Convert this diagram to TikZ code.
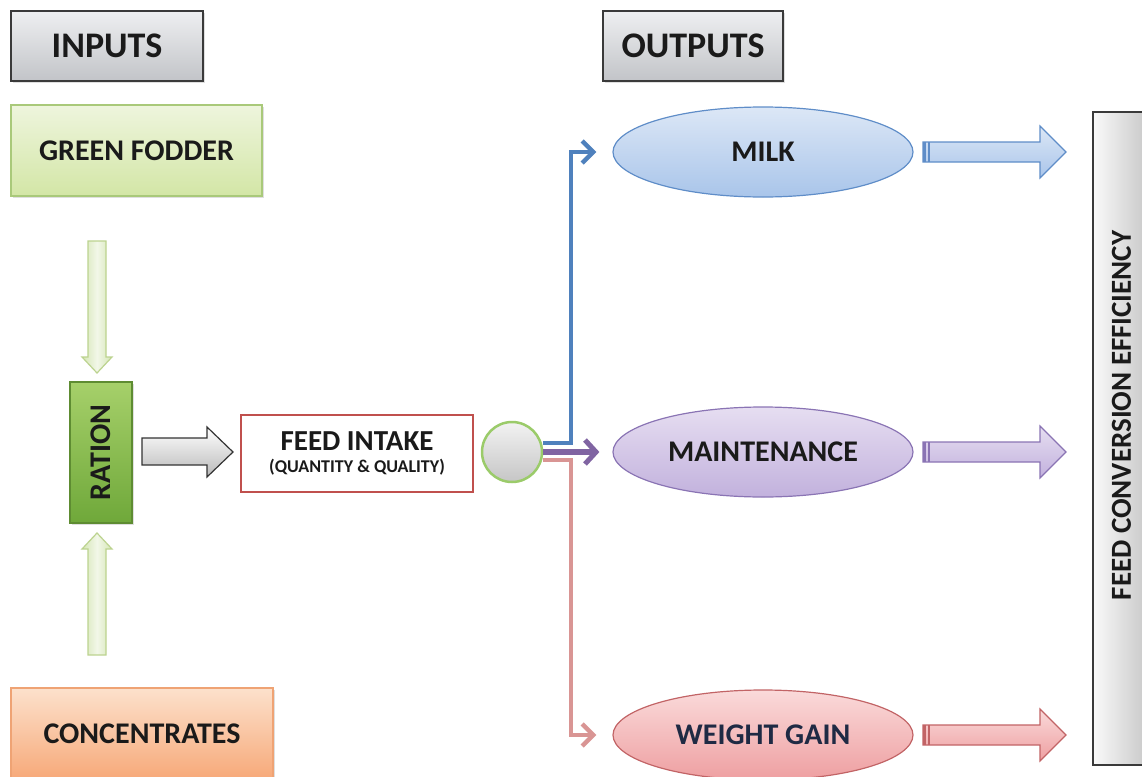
\documentclass[tikz,border=0pt]{standalone}
\usepackage{fontspec}
\setmainfont{Carlito}
\usetikzlibrary{shapes.geometric,arrows.meta,shadows,calc}
\newcommand\myfs[1]{\fontsize{#1}{#1}\selectfont}
\definecolor{txt}{HTML}{1A1A1A}
\definecolor{hdrtop}{HTML}{EEEFF1}
\definecolor{hdrbot}{HTML}{C2C4C8}
\definecolor{hdrline}{HTML}{3A3A3A}
\definecolor{gftop}{HTML}{EEF5DD}
\definecolor{gfbot}{HTML}{D3E6A6}
\definecolor{gfline}{HTML}{A9C97A}
\definecolor{ratop}{HTML}{A6D06A}
\definecolor{rabot}{HTML}{6FA83A}
\definecolor{raline}{HTML}{5E8C32}
\definecolor{cotop}{HTML}{FCE1CC}
\definecolor{cobot}{HTML}{F7A979}
\definecolor{coline}{HTML}{EFA374}
\definecolor{fired}{HTML}{C0504D}
\definecolor{hubline}{HTML}{9BCB6A}
\definecolor{bline}{HTML}{4F81BD}
\definecolor{pline}{HTML}{8064A2}
\definecolor{rline}{HTML}{D99594}
\definecolor{btop}{HTML}{DCE7F6}
\definecolor{bbot}{HTML}{A9C5EA}
\definecolor{bedge}{HTML}{5F8DC8}
\definecolor{ptop}{HTML}{E6DEF1}
\definecolor{pbot}{HTML}{C2B1DD}
\definecolor{pedge}{HTML}{8A74B4}
\definecolor{rtop}{HTML}{FADADA}
\definecolor{rbot}{HTML}{EE9FA1}
\definecolor{redge}{HTML}{C26466}
\definecolor{wgtxt}{HTML}{1F2A44}
\definecolor{galine}{HTML}{BCD38F}
\definecolor{gaout}{HTML}{D5E6B5}
\definecolor{gain}{HTML}{F2F7E8}
\tikzset{
  shad/.style={drop shadow={shadow xshift=2pt,shadow yshift=-2pt,opacity=0.25}},
  hdrbox/.style={draw=hdrline,line width=1.2pt,top color=hdrtop,bottom color=hdrbot,
    minimum height=70pt,inner sep=0pt,font=\myfs{36}\bfseries,text=txt,shad},
  inbox/.style={line width=1.2pt,minimum height=91pt,inner sep=0pt,font=\myfs{30}\bfseries,text=txt,shad},
  outell/.style={ellipse,line width=1.2pt,minimum width=300pt,minimum height=90pt,inner sep=0pt,
    font=\myfs{30}\bfseries,text=txt},
  conn/.style={line width=4pt,-{Straight Barb[length=11pt,width=22pt,line width=4.5pt]}},
  garrow/.style={draw=galine,line width=1.2pt,left color=gaout,right color=gaout,middle color=gain},
  barrow/.style={line width=1.2pt},
}
\begin{document}
\begin{tikzpicture}[x=1pt,y=-1pt]
\useasboundingbox (0,0) rectangle (1142,776);
% headers
\node[hdrbox,minimum width=192pt] (inputs) at (107,46) {INPUTS};
\node[hdrbox,minimum width=180pt] (outputs) at (693,46) {OUTPUTS};
% inputs
\node[inbox,draw=gfline,top color=gftop,bottom color=gfbot,minimum width=251pt] (green) at (136.5,150.5) {GREEN FODDER};
\node[inbox,draw=coline,top color=cotop,bottom color=cobot,minimum width=262pt] (conc) at (142,733.5) {CONCENTRATES};
\node[draw=raline,line width=1.2pt,top color=ratop,bottom color=rabot,minimum width=62pt,minimum height=141pt,
  inner sep=0pt,font=\myfs{30}\bfseries,text=txt,shad] (ration) at (101,452.5) {\rotatebox{90}{RATION}};
% green block arrows
\draw[garrow] (88,241) -- (106,241) -- (106,357) -- (112,357) -- (97,373) -- (82,357) -- (88,357) -- cycle;
\draw[garrow] (88,655) -- (106,655) -- (106,549) -- (112,549) -- (97,533) -- (82,549) -- (88,549) -- cycle;
% gray arrow
\draw[line width=1.2pt,draw=black!80,top color=white,bottom color=gray!55]
  (142,438) -- (207,438) -- (207,427) -- (233,452) -- (207,477) -- (207,465) -- (142,465) -- cycle;
% feed intake
\node[draw=fired,line width=2.5pt,fill=white,minimum width=232pt,minimum height=77pt,inner sep=0pt,text=txt,
  align=center] (feed) at (357,453.5) {{\myfs{29}\bfseries FEED INTAKE}\\[7pt]{\myfs{18}\bfseries (QUANTITY \& QUALITY)}};
% hub
\node[circle,draw=hubline,line width=2.5pt,top color=gray!10,bottom color=gray!45,minimum size=60pt,inner sep=0pt] (hub) at (512,452) {};
% outputs
\node[outell,draw=bedge,top color=btop,bottom color=bbot] (milk) at (763,152) {MILK};
\node[outell,draw=pedge,top color=ptop,bottom color=pbot] (maint) at (763,452) {MAINTENANCE};
\node[outell,draw=redge,top color=rtop,bottom color=rbot,text=wgtxt] (wg) at (763,735) {WEIGHT GAIN};
% connectors
\draw[conn,bline] ([yshift=9pt]hub.east) -- ++(28,0) |- ([xshift=-16pt]milk.west);
\draw[conn,rline] ([yshift=-8pt]hub.east) -- ++(28,0) |- ([xshift=-16pt]wg.west);
\draw[line width=6pt,pline,-{Straight Barb[length=11pt,width=24pt,line width=5pt]}] (hub.east) -- ([xshift=-13pt]maint.west);
% right block arrows
\foreach \yy/\ec/\tc/\bc in {152/bedge/btop/bbot,452/pedge/ptop/pbot,735/redge/rtop/rbot}{
  \begin{scope}[shift={(0,\yy)}]
    \draw[barrow,draw=\ec,top color=\tc,bottom color=\bc]
      (923,-10) -- (1040,-10) -- (1040,-26) -- (1066,0) -- (1040,26) -- (1040,10) -- (923,10) -- cycle;
    \fill[\ec] (923,-10) rectangle (926,10);
    \draw[line width=1.2pt,draw=\ec] (929,-10) -- (929,10);
  \end{scope}
}
% FCE
\node[draw=hdrline,line width=1.2pt,left color=gray!4,right color=gray!45,minimum width=57pt,minimum height=653pt,
  inner sep=0pt,font=\myfs{29}\bfseries,text=txt] (fce) at (1121.5,438.5) {\rotatebox{90}{\hspace*{46pt}FEED CONVERSION EFFICIENCY}};
\end{tikzpicture}
\end{document}
